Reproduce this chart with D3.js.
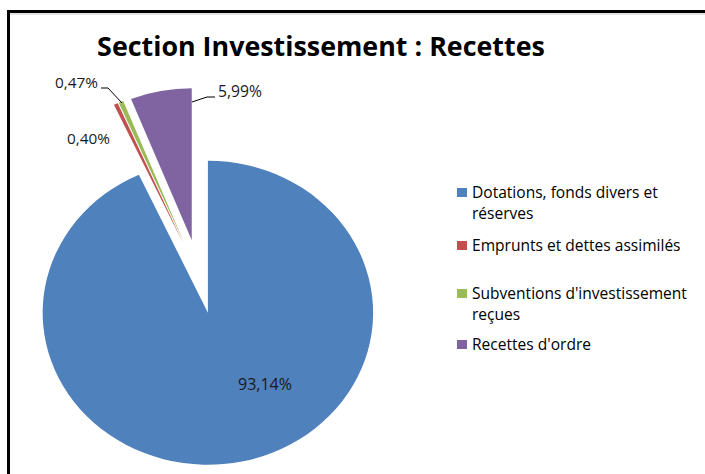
<!DOCTYPE html>
<html><head><meta charset="utf-8">
<script src="https://cdn.jsdelivr.net/npm/d3@7"></script>
<style>body{margin:0;background:#fff}svg{display:block}</style>
</head><body>
<svg id="c" width="705" height="474"></svg>
<script>
const categories = ["Dotations, fonds divers et réserves","Emprunts et dettes assimilés","Subventions d'investissement reçues","Recettes d'ordre"];
const legendLines = [["Dotations, fonds divers et","réserves"],["Emprunts et dettes assimilés"],["Subventions d'investissement","reçues"],["Recettes d'ordre"]];
const values = [93.14, 0.40, 0.47, 5.99];
const valueLabels = ["93,14%","0,40%","0,47%","5,99%"];
const colors = ["#4F81BD","#C0504D","#9BBB59","#8064A2"];

const svg = d3.select("#c");
const font = "'Open Sans', sans-serif";

// border
svg.append("rect").attr("x",8.5).attr("y",11.5).attr("width",720).attr("height",480)
  .attr("fill","#fff").attr("stroke","#000").attr("stroke-width",3);
svg.append("line").attr("x1",10).attr("x2",705).attr("y1",14).attr("y2",14).attr("stroke","#c8c8c8").attr("stroke-width",1);

// title
const title = svg.append("text").attr("x",321).attr("y",56).attr("text-anchor","middle")
  .attr("font-family",font).attr("font-weight","bold").attr("font-size",24).attr("fill","#000")
  .text("Section Investissement : Recettes");
let tw = title.node().getComputedTextLength();
title.attr("font-size", 24*448/tw);

// pie
const cx = 199.3, cy = 276.6, ry = 152, sx = 1.087, explode = 37;
const pie = d3.pie().sort(null).value(d=>d);
const arcs = pie(values);
const arc = d3.arc().innerRadius(0).outerRadius(ry);
const g = svg.append("g").attr("transform",`translate(${cx},${cy}) scale(${sx},1)`);
g.selectAll("path").data(arcs).join("path")
  .attr("transform", d=>{const m=(d.startAngle+d.endAngle)/2; return `translate(${explode*Math.sin(m)},${-explode*Math.cos(m)})`;})
  .attr("d", arc).attr("fill",(d,i)=>colors[i]);

// labels
const lab = svg.append("g").attr("font-family",font).attr("font-size",12).attr("fill","#1a1a1a");
function fitText(sel, w){ const l=sel.node().getComputedTextLength(); sel.attr("font-size",12*w/l); }
const labelPos = [[265,390,"middle",54],[67,144,"start",43],[55,88,"start",43],[218,97,"start",44]];
valueLabels.forEach((t,i)=>{
  const s = lab.append("text").attr("x",labelPos[i][0]).attr("y",labelPos[i][1]).attr("text-anchor",labelPos[i][2]).text(t);
  fitText(s, labelPos[i][3]);
});
// leader lines
const leaders = [
  [[101,88],[108,88],[122,103]],
  [[192,102],[207,97],[215,97]]
];
leaders.forEach(p=>svg.append("path").attr("d",d3.line()(p)).attr("fill","none").attr("stroke","#000").attr("stroke-width",1));

// legend
const leg = svg.append("g").attr("font-family",font).attr("font-size",12).attr("fill","#000");
const legTop = [193,246,294,345];
legendLines.forEach((lines,i)=>{
  leg.append("rect").attr("x",457).attr("y",legTop[i]-5).attr("width",10).attr("height",9).attr("fill",colors[i]);
  lines.forEach((ln,j)=>{
    leg.append("text").attr("x",472).attr("y",legTop[i]+4.5+j*21).text(ln);
  });
});
const probe = leg.selectAll("text").filter(function(){return d3.select(this).text()==="Subventions d'investissement";});
const pw = probe.node().getComputedTextLength();
leg.selectAll("text").attr("font-size", 12*215/pw);
</script>
</body></html>
